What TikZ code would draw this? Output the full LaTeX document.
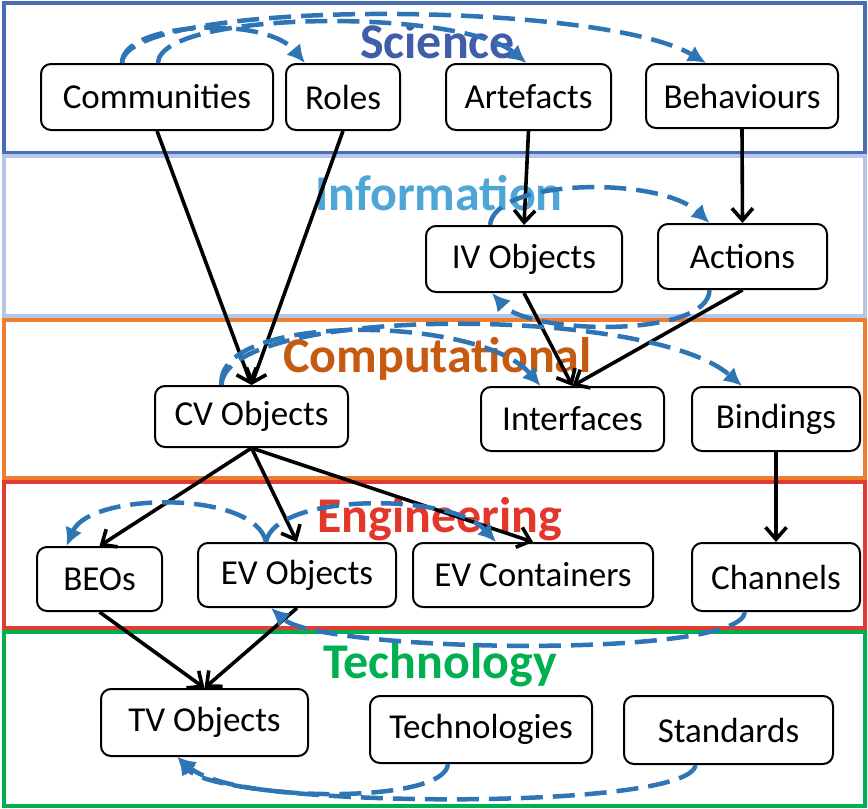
\documentclass[tikz,border=0pt]{standalone}
\usepackage{fontspec}
\setmainfont{Carlito}
\usetikzlibrary{arrows.meta,calc}
\definecolor{sciT}{HTML}{3F5DA8}
\definecolor{sciB}{HTML}{4A6EB5}
\definecolor{infT}{HTML}{4EA6D6}
\definecolor{infB}{HTML}{B4C7E7}
\definecolor{cmpT}{HTML}{C55A11}
\definecolor{cmpB}{HTML}{ED7D31}
\definecolor{engT}{HTML}{E2382C}
\definecolor{engB}{HTML}{E03C31}
\definecolor{tecT}{HTML}{00B050}
\definecolor{tecB}{HTML}{00B050}
\definecolor{dblue}{HTML}{2E75B6}
\tikzset{
  box/.style={draw=black, line width=2pt, rounded corners=10pt, fill=white,
    inner sep=0pt, font=\fontsize{35}{40}\selectfont},
  band/.style={line width=3.5pt},
  ttl/.style={anchor=base, font=\fontsize{50}{54}\selectfont\bfseries},
  dep/.style={draw=black, line width=3.6pt, -{Straight Barb[length=12pt,width=21pt,line width=3.6pt]}},
  rel/.style={draw=dblue, line width=4.5pt, dash pattern=on 22pt off 10pt,
    -{Latex[length=18pt,width=18pt]}},
}
\begin{document}
\begin{tikzpicture}[x=1pt,y=-1pt]
\useasboundingbox (0,0) rectangle (868,809);
\fill[white] (0,0) rectangle (868,809);
% bands
\draw[band,draw=sciB] (4,3) rectangle (865,153);
\draw[band,draw=infB] (4,156) rectangle (865,316);
\draw[band,draw=cmpB] (4,320) rectangle (865,478);
\draw[band,draw=engB] (4,482) rectangle (865,628);
\draw[band,draw=tecB] (4,632) rectangle (865,806);
% titles
\node[ttl,text=sciT] (tsci) at (437.5,58) {Science};
\node[ttl,text=infT] (tinf) at (439,210) {Information};
\node[ttl,text=cmpT] (tcmp) at (437.5,372) {Computational};
\node[ttl,text=engT] (teng) at (440,532) {Engineering};
\node[ttl,text=tecT] (ttec) at (440,678) {Technology};
% nodes
\node[box,minimum width=232pt,minimum height=66pt] (comm) at (157,97) {Communities};
\node[box,minimum width=114pt,minimum height=66pt] (roles) at (343,97) {Roles};
\node[box,minimum width=165pt,minimum height=66pt] (arte) at (528.5,97) {Artefacts};
\node[box,minimum width=192pt,minimum height=64pt] (beh) at (742,96) {Behaviours};
\node[box,minimum width=196pt,minimum height=66pt] (ivo) at (524,259) {IV Objects};
\node[box,minimum width=169pt,minimum height=65pt] (act) at (742.5,256.5) {Actions};
\node[box,minimum width=193pt,minimum height=61pt] (cvo) at (251.5,416.5) {CV Objects};
\node[box,minimum width=183pt,minimum height=64pt] (intf) at (572.5,419) {Interfaces};
\node[box,minimum width=168pt,minimum height=64pt] (bind) at (776,419) {Bindings};
\node[box,minimum width=125pt,minimum height=64pt] (beos) at (99.5,579) {BEOs};
\node[box,minimum width=198pt,minimum height=64pt] (evo) at (297,575) {EV Objects};
\node[box,minimum width=240pt,minimum height=64pt] (evc) at (533,575) {EV Containers};
\node[box,minimum width=168pt,minimum height=68pt] (chan) at (776,577) {Channels};
\node[box,minimum width=207pt,minimum height=67pt] (tvo) at (204.5,722.5) {TV Objects};
\node[box,minimum width=222pt,minimum height=67pt] (tech) at (481,729.5) {Technologies};
\node[box,minimum width=209pt,minimum height=68pt] (std) at (728.5,730) {Standards};
% solid dependencies
\draw[dep] (comm.south) -- (cvo.north);
\draw[dep] (roles.south) -- (cvo.north);
\draw[dep] (arte.south) -- (ivo.north);
\draw[dep] (beh.south) -- (act.north);
\draw[dep] (ivo.south) -- (intf.north);
\draw[dep] (act.south) -- (intf.north);
\draw[dep] (cvo.south) -- (beos.north);
\draw[dep] (cvo.south) -- (evo.north);
\draw[dep] (cvo.south) -- (evc.north);
\draw[dep] (bind.south) -- (chan.north);
\draw[dep] (beos.south) -- (tvo.north);
\draw[dep] (evo.south) -- (tvo.north);
% dashed relations
\draw[rel] ($(comm.north)+(-35,0)$) .. controls (122,22) and (265,15) .. ($(roles.north)+(-38,0)$);
\draw[rel] ($(comm.north)+(1,0)$) .. controls (160,10) and (460,8) .. ($(arte.north)+(-2,0)$);
\draw[rel] ($(comm.north)+(-35,0)$) .. controls (125,-2) and (600,0) .. ($(beh.north)+(-36,0)$);
\draw[rel] ($(ivo.north)+(-34,0)$) .. controls (495,178) and (660,176) .. ($(act.north)+(-33,0)$);
\draw[rel] ($(act.south)+(-33,0)$) .. controls (709,338) and (530,335) .. ($(ivo.south)+(-32,0)$);
\draw[rel] ($(cvo.north)+(-30,0)$) .. controls (215,312) and (480,315) .. ($(intf.north)+(-32,0)$);
\draw[rel] ($(cvo.north)+(-30,0)$) .. controls (225,305) and (650,305) .. ($(bind.north)+(-34,0)$);
\draw[rel] ($(evo.north)+(-31,0)$) .. controls (255,490) and (90,492) .. ($(beos.north)+(-33,0)$);
\draw[rel] ($(evo.north)+(-31,0)$) .. controls (275,493) and (450,492) .. ($(evc.north)+(-37,0)$);
\draw[rel] ($(chan.south)+(-31,0)$) .. controls (740,660) and (320,652) .. ($(evo.south)+(-26,0)$);
\draw[rel] ($(tech.south)+(-33,0)$) .. controls (445,805) and (230,802) .. ($(tvo.south)+(-27,0)$);
\draw[rel] ($(std.south)+(-33,0)$) .. controls (690,812) and (220,808) .. ($(tvo.south)+(-27,0)$);
\end{tikzpicture}
\end{document}
